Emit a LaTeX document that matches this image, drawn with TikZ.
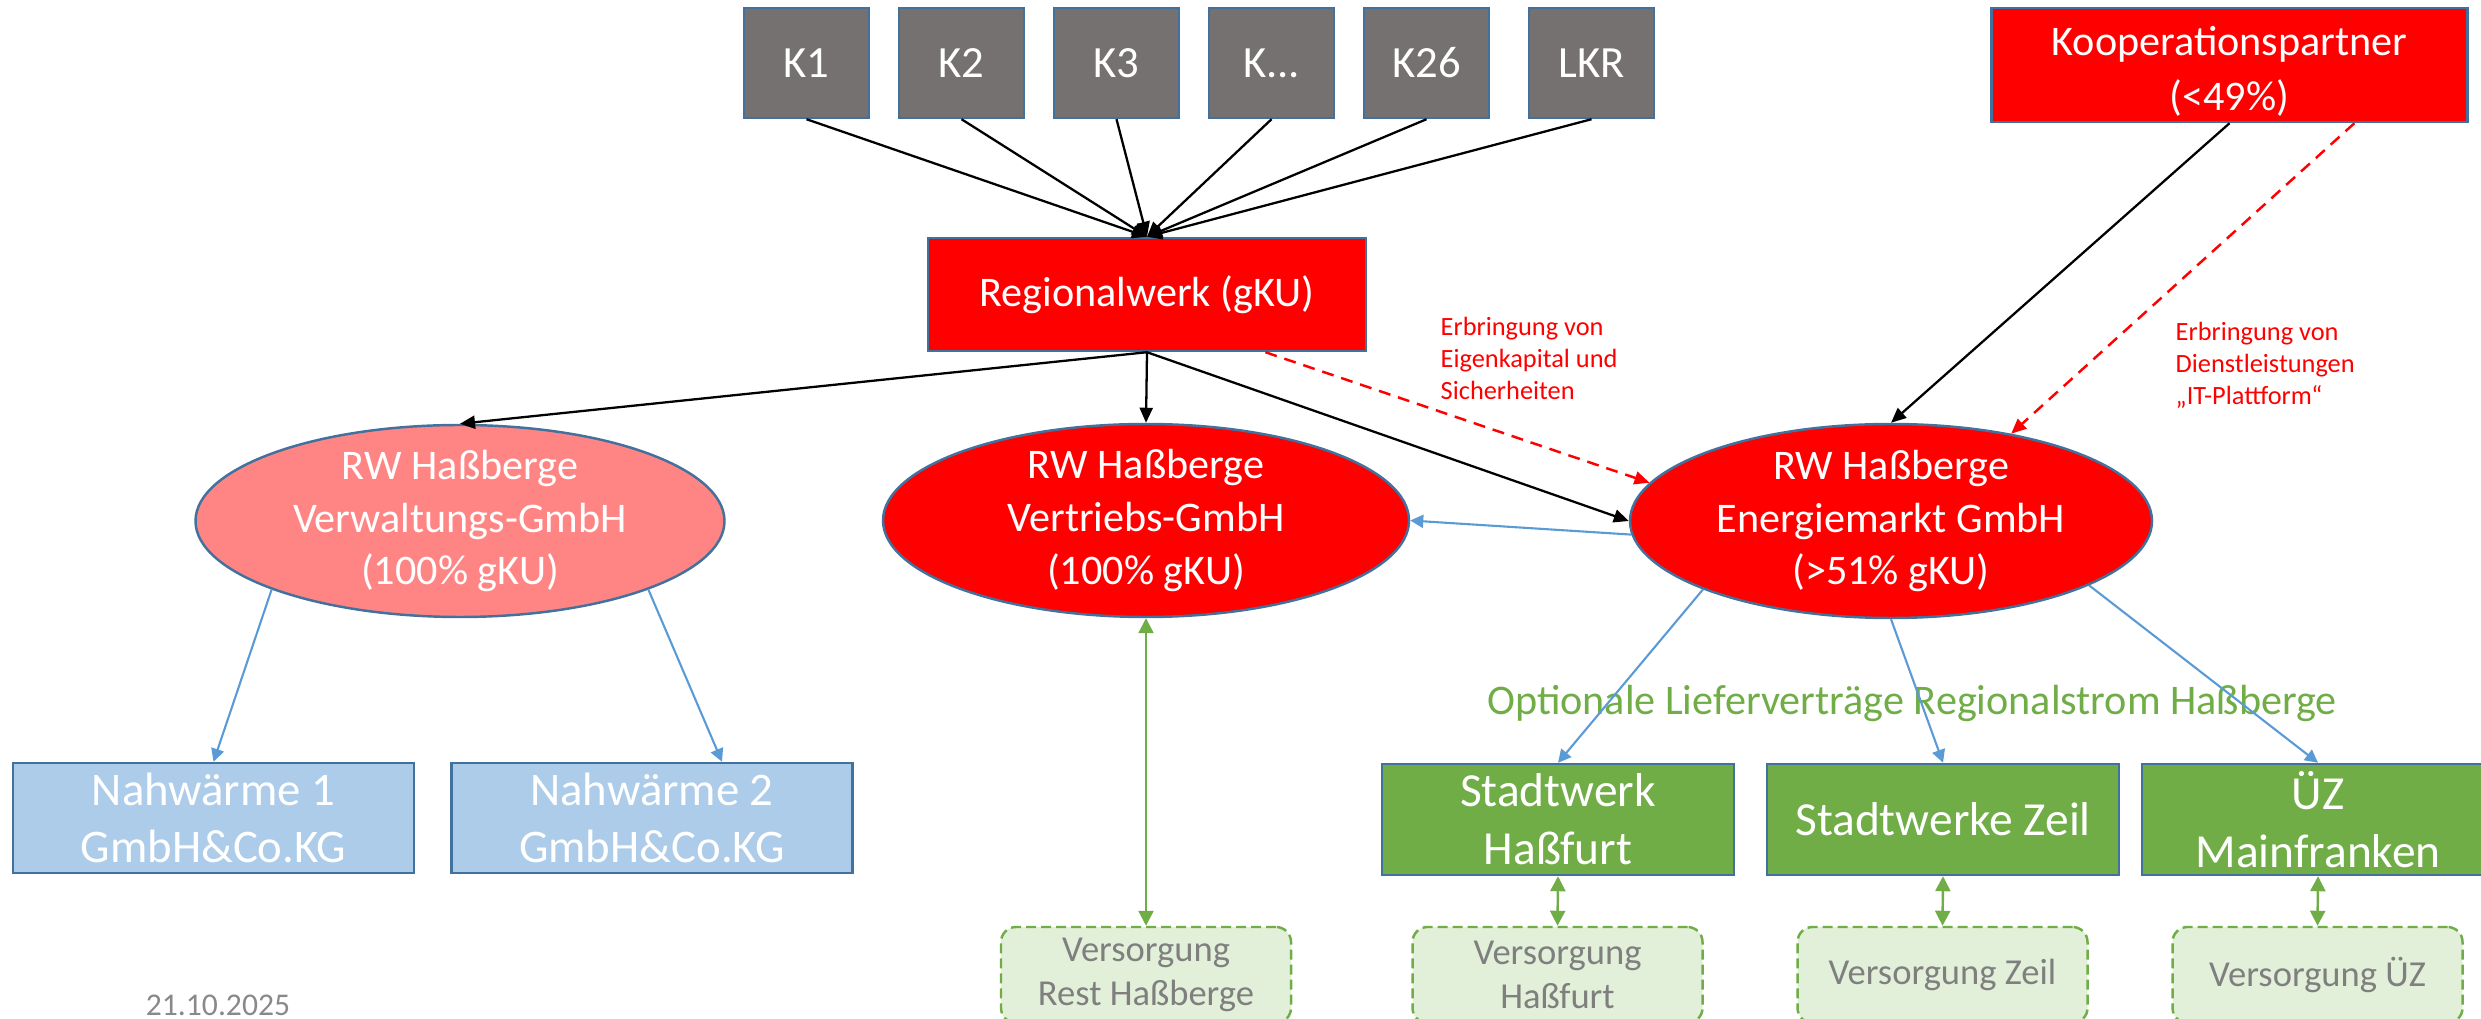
\documentclass[tikz,border=0pt]{standalone}
\usepackage{fontspec}
\setmainfont{Carlito}
\usetikzlibrary{arrows.meta,shapes.geometric}

\definecolor{kgray}{HTML}{767171}
\definecolor{shapeblue}{HTML}{41719C}
\definecolor{rwred}{HTML}{FF0000}
\definecolor{rwpink}{HTML}{FF8585}
\definecolor{nwblue}{HTML}{ADCCEA}
\definecolor{swgreen}{HTML}{70AD47}
\definecolor{vslight}{HTML}{E2F0D9}
\definecolor{lnblue}{HTML}{5B9BD5}
\definecolor{vsgray}{HTML}{7F7F7F}
\definecolor{dategray}{HTML}{898989}

\tikzset{
    kbox/.style = {draw=shapeblue, line width=0.7pt, fill=kgray, text=white, minimum width=12.5mm, minimum height=11mm, inner sep=0pt, font=\fontsize{12.7}{15}\selectfont},
    redbox/.style = {draw=shapeblue, line width=0.7pt, fill=rwred, text=white, inner sep=0pt, align=center, font=\fontsize{12}{15}\selectfont},
    firm/.style = {ellipse, draw=shapeblue, line width=0.7pt, text=white, minimum width=52.6mm, minimum height=19.3mm, inner xsep=0pt, inner ysep=-2.5mm, align=center, font=\fontsize{12}{15}\selectfont},
    nwbox/.style = {draw=shapeblue, line width=0.7pt, fill=nwblue, text=white, minimum width=40.1mm, minimum height=11mm, inner sep=0pt, align=center, font=\fontsize{13.3}{16}\selectfont},
    swbox/.style = {draw=shapeblue, line width=0.7pt, fill=swgreen, text=white, minimum width=35.2mm, minimum height=11.1mm, inner sep=0pt, align=center, font=\fontsize{13.5}{16.4}\selectfont},
    supply/.style = {draw=swgreen, line width=0.7pt, dash pattern=on 1mm off 0.5mm, rounded corners=1.5mm, fill=vslight, text=vsgray, minimum width=29mm, minimum height=9.6mm, inner sep=0pt, align=center, font=\fontsize{10.4}{12.5}\selectfont},
    own/.style = {line width=0.65pt, -{Triangle[length=1.5mm, width=1.3mm]}},
    service/.style = {rwred, line width=0.7pt, dash pattern=on 1.2mm off 0.8mm, -{Triangle[length=1.5mm, width=1.3mm]}},
    supplies/.style = {lnblue, line width=0.6pt, -{Triangle[length=1.3mm, width=1.3mm]}},
    link/.style = {swgreen, line width=0.7pt, {Triangle[length=1.5mm, width=1.5mm]}-{Triangle[length=1.5mm, width=1.5mm]}},
    note/.style = {rwred, inner sep=0pt, align=left, font=\fontsize{7.5}{9}\selectfont}
}

\begin{document}
\begin{tikzpicture}[x = 0.1mm, y = -0.1mm]
    \useasboundingbox (0,0) rectangle (2481,1019);
    \node[kbox] (k1) at (806.5,63) {K1};
    \node[kbox] (k2) at (961.5,63) {K2};
    \node[kbox] (k3) at (1116.5,63) {K3};
    \node[kbox] (kx) at (1271.5,63) {K...};
    \node[kbox] (k26) at (1426.5,63) {K26};
    \node[kbox] (lkr) at (1591.5,63) {LKR};
    \node[redbox, minimum width=43.8mm, minimum height=11.3mm] (rw) at (1147,294.5) {Regionalwerk (gKU)};
    \node[redbox, minimum width=47.6mm, minimum height=11.4mm, font=\fontsize{12}{15.5}\selectfont] (kp) at (2229.5,65) {\rule{0pt}{12pt}Kooperationspartner\\(<49\%)};
    \node[firm, fill=rwpink, minimum width=52.9mm, minimum height=19.2mm] (vw) at (460,521) {RW Haßberge\\Verwaltungs-GmbH\\(100\% gKU)};
    \node[firm, fill=rwred] (vt) at (1146,520.5) {RW Haßberge\\Vertriebs-GmbH\\(100\% gKU)};
    \node[firm, fill=rwred, minimum width=52.2mm, minimum height=19.4mm] (em) at (1891,521) {RW Haßberge\\Energiemarkt GmbH\\(>51\% gKU)};
    \node[nwbox] (nw1) at (213.5,818) {Nahwärme 1\\GmbH\&Co.KG};
    \node[nwbox] (nw2) at (652,818) {Nahwärme 2\\GmbH\&Co.KG};
    \node[swbox] (sh) at (1558,819.5) {Stadtwerk\\Haßfurt};
    \node[swbox] (sz) at (1943,819.5) {Stadtwerke Zeil};
    \node[swbox] (uez) at (2318,819.5) {ÜZ\\Mainfranken};
    \node[supply] (vr) at (1146,975) {Versorgung\\Rest Haßberge};
    \node[supply] (vh) at (1557.5,975) {Versorgung\\Haßfurt};
    \node[supply] (vz) at (1942.5,975) {Versorgung Zeil};
    \node[supply] (vu) at (2317.5,975) {Versorgung ÜZ};
    \node[note, anchor=north west] (eklabel) at (1440,317) {Erbringung von\\Eigenkapital und\\Sicherheiten};
    \node[note, anchor=north west] (itlabel) at (2175,322) {Erbringung von\\Dienstleistungen\\„IT-Plattform“};
    \node[text=swgreen, anchor=base, inner sep=0pt, font=\fontsize{12}{14}\selectfont] (optlabel) at (1912,715) {Optionale Lieferverträge Regionalstrom Haßberge};
    \node[text=dategray, inner sep=0pt, font=\fontsize{9}{11}\selectfont] (date) at (218,1005) {21.10.2025};
    \draw[own] (k1.south) -- (rw.north);
    \draw[own] (k2.south) -- (rw.north);
    \draw[own] (k3.south) -- (rw.north);
    \draw[own] (kx.south) -- (rw.north);
    \draw[own] (k26.south) -- (rw.north);
    \draw[own] (lkr.south) -- (rw.north);
    \draw[own] (rw.south) -- (vw.north);
    \draw[own] (rw.south) -- (vt.north);
    \draw[own] (rw.south) -- (em.west);
    \draw[own] (kp.south) -- (em.north);
    \draw[service] (rw.-26) -- (em.171);
    \draw[service] (kp.-25) -- (em.36);
    \draw[supplies] (em.183) -- (vt.east);
    \draw[supplies] (vw.200) -- (nw1.north);
    \draw[supplies] (vw.340) -- ([xshift=7mm]nw2.north);
    \draw[supplies] (em.200) -- (sh.north);
    \draw[supplies] (em.south) -- (sz.north);
    \draw[supplies] (em.342) -- (uez.north);
    \draw[link] (vt.south) -- (vr.north);
    \draw[link] (sh.south) -- (vh.north);
    \draw[link] (sz.south) -- (vz.north);
    \draw[link] (uez.south) -- (vu.north);
\end{tikzpicture}
\end{document}
